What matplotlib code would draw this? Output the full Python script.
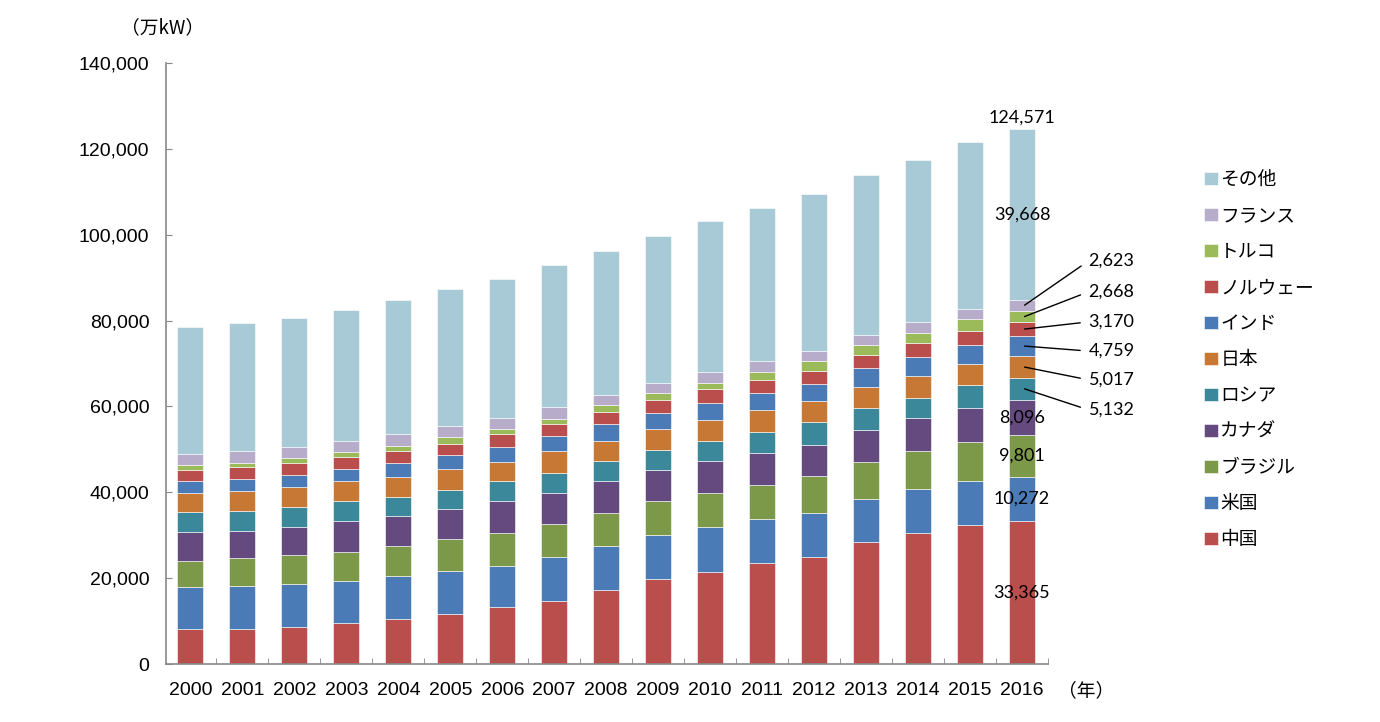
import matplotlib
matplotlib.use('Agg')
import matplotlib.pyplot as plt
import numpy as np

# 年
years = [str(y) for y in range(2000, 2017)]

# 国別の水力発電設備容量（万kW）
china = [8100, 8250, 8640, 9570, 10500, 11670, 13300, 14780, 17190, 19760, 21550, 23420, 24900, 28320, 30420, 32290, 33365]
usa = [9800, 9880, 10110, 9800, 10120, 10110, 9650, 10120, 10200, 10190, 10270, 10270, 10270, 10110, 10270, 10270, 10272]
brazil = [6140, 6610, 6540, 6770, 6770, 7240, 7470, 7780, 7780, 8020, 8010, 8090, 8550, 8560, 8870, 9100, 9801]
canada = [6770, 6220, 6530, 7080, 7000, 7000, 7470, 7230, 7390, 7150, 7550, 7470, 7390, 7470, 7700, 7930, 8096]
russia = [4510, 4670, 4750, 4670, 4590, 4590, 4670, 4670, 4820, 4670, 4670, 4820, 5220, 5210, 4820, 5370, 5132]
japan = [4590, 4670, 4670, 4670, 4670, 4830, 4430, 5060, 4670, 4980, 4820, 5060, 4900, 4900, 4980, 4980, 5017]
india = [2650, 2800, 2800, 2960, 3190, 3190, 3500, 3500, 3890, 3740, 4050, 3970, 4040, 4360, 4520, 4440, 4759]
norway = [2640, 2720, 2720, 2800, 2720, 2720, 3040, 2720, 2800, 2950, 3030, 3110, 2880, 2960, 3190, 3190, 3170]
turkey = [1250, 1020, 1170, 1170, 1170, 1630, 1240, 1320, 1560, 1640, 1480, 1790, 2340, 2330, 2330, 2720, 2668]
france = [2410, 2720, 2570, 2570, 2800, 2410, 2490, 2800, 2330, 2330, 2570, 2490, 2330, 2410, 2490, 2410, 2623]
other = [29640, 29800, 30030, 30340, 31190, 31870, 32440, 32880, 33500, 34200, 35130, 35630, 36720, 37230, 37770, 38860, 39668]

names = ['中国', '米国', 'ブラジル', 'カナダ', 'ロシア', '日本', 'インド', 'ノルウェー', 'トルコ', 'フランス', 'その他']
series = [china, usa, brazil, canada, russia, japan, india, norway, turkey, france, other]
colors = ['#B94E4C', '#4A7BB7', '#7C9849', '#654A80', '#3A8899', '#C77835',
          '#4A7BB7', '#B94E4C', '#9BBB5A', '#B7ADCB', '#A8CAD6']

# 2016年の値ラベル（中に書くもの / 引き出し線で外に書くもの）
inside = ['中国', '米国', 'ブラジル', 'カナダ', 'その他']
outside = ['フランス', 'トルコ', 'ノルウェー', 'インド', '日本', 'ロシア']
outside_y = [93900, 86700, 79700, 72900, 66200, 59200]

plt.rcParams['font.family'] = ['Liberation Sans', 'Noto Sans CJK JP']
jp = ['Noto Sans CJK JP', 'DejaVu Sans']
num_font = ['Lato', 'DejaVu Sans']

fig = plt.figure(figsize=(13.8, 7.22), dpi=100)
ax = fig.add_axes([0.1203, 0.0803, 0.6391, 0.8324])

x = np.arange(len(years))
bottom = np.zeros(len(years))
bars = {}
for name, vals, c in zip(names, series, colors):
    v = np.array(vals, dtype=float)
    bars[name] = ax.bar(x, v, 0.5, bottom=bottom, color=c, edgecolor='white',
                        linewidth=0.4, label=name)
    bottom += v

# 2016年のラベル
last = len(years) - 1
cum = np.cumsum([s[last] for s in series])
mids = {n: cum[i] - series[i][last] / 2 for i, n in enumerate(names)}
vals16 = {n: series[i][last] for i, n in enumerate(names)}
for n in inside:
    ax.text(x[last], mids[n], f'{vals16[n]:,}', ha='center', va='center',
            fontsize=13, family=num_font)
ax.text(x[last], cum[-1] + 800, f'{int(cum[-1]):,}', ha='center', va='bottom',
        fontsize=13, family=num_font)
for n, ty in zip(outside, outside_y):
    ax.annotate(f'{vals16[n]:,}', xy=(x[last] + 0.05, mids[n]), xytext=(x[last] + 1.28, ty),
                ha='left', va='center', fontsize=13, family=num_font,
                annotation_clip=False,
                arrowprops=dict(arrowstyle='-', color='black', lw=1.0,
                                shrinkA=4, shrinkB=0, relpos=(0, 0.5)))

ax.set_xlim(-0.47, len(years) - 0.5)
ax.set_ylim(0, 140000)
ax.set_yticks(np.arange(0, 140001, 20000))
ax.set_yticklabels([f'{int(t):,}' for t in np.arange(0, 140001, 20000)])
ax.set_xticks(x)
ax.set_xticklabels(years)
ax.set_xticks(np.arange(0.5, len(years), 1), minor=True)

for s in ['top', 'right']:
    ax.spines[s].set_visible(False)
for s in ['left', 'bottom']:
    ax.spines[s].set_color('#888888')
    ax.spines[s].set_linewidth(1.2)
ax.tick_params(axis='y', direction='in', length=4, color='#888888', labelsize=14, pad=12)
ax.tick_params(axis='x', which='major', length=0, labelsize=14, pad=13)
ax.tick_params(axis='x', which='minor', direction='in', length=4, color='#888888')

fig.text(163 / 1380, 1 - 28 / 722, '（万kW）', ha='center', va='center', fontsize=13.5, family=jp)
fig.text(1086 / 1380, 1 - 691 / 722, '（年）', ha='center', va='center', fontsize=13.5, family=jp)

handles = [bars[n] for n in names][::-1]
leg = fig.legend(handles, names[::-1], loc='upper left',
                 bbox_to_anchor=(1204 / 1380, 1 - 169 / 722), frameon=False,
                 prop={'family': jp, 'size': 13.5}, handlelength=0.72, handleheight=0.72,
                 handletextpad=0.15, labelspacing=0.80, borderpad=0, borderaxespad=0)

fig.savefig('out.png', dpi=100)
